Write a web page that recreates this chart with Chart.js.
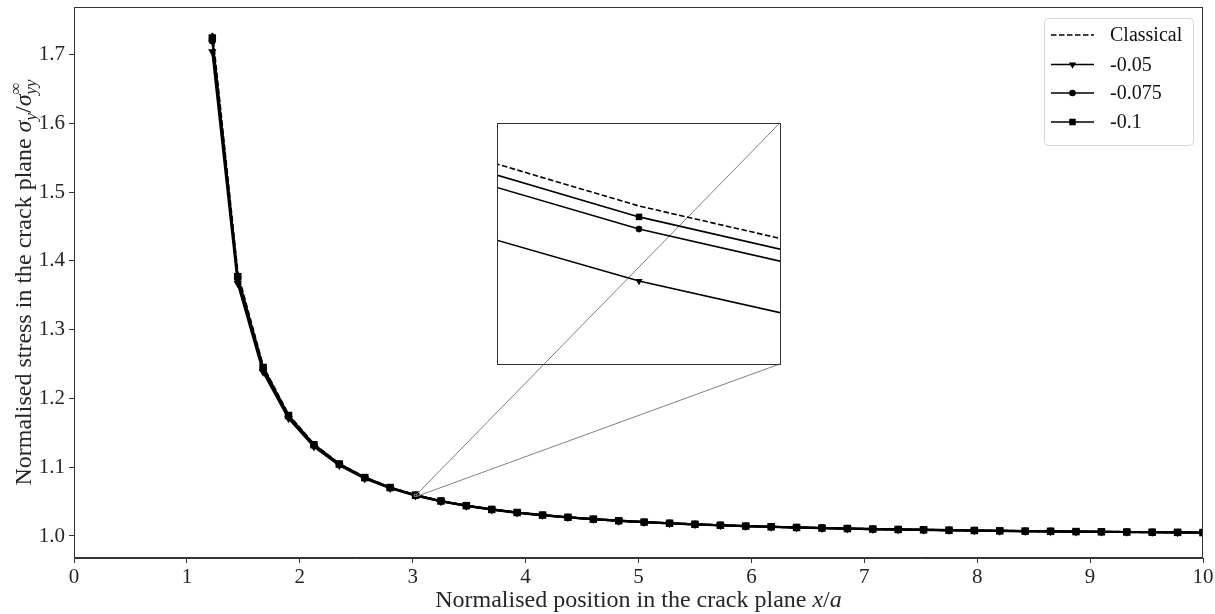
<!DOCTYPE html>
<html>
<head>
<meta charset="utf-8">
<script src="https://cdn.jsdelivr.net/npm/chart.js@4.4.1/dist/chart.umd.min.js"></script>
<style>
  body { margin: 0; background: #fff; }
  #wrap { position: relative; width: 1215px; height: 614px; }
  #inset { position: absolute; }
</style>
</head>
<body>
<div id="wrap">
  <canvas id="main" width="1215" height="614"></canvas>
  <canvas id="inset"></canvas>
</div>
<script>
// positions along the crack plane, x/a
var xVals = [1.225, 1.45, 1.675, 1.9, 2.125, 2.35, 2.575, 2.8, 3.025, 3.25,
  3.475, 3.7, 3.925, 4.15, 4.375, 4.6, 4.825, 5.05, 5.275, 5.5,
  5.725, 5.95, 6.175, 6.4, 6.625, 6.85, 7.075, 7.3, 7.525, 7.75,
  7.975, 8.2, 8.425, 8.65, 8.875, 9.1, 9.325, 9.55, 9.775, 10.0];

var classical = [1.7313, 1.3810, 1.2465, 1.1761, 1.1333, 1.1050, 1.0852, 1.070607, 1.059571, 1.050988,
  1.0442, 1.0387, 1.0341, 1.0304, 1.0272, 1.0245, 1.0222, 1.0202, 1.0185, 1.0170,
  1.0156, 1.0144, 1.0134, 1.0124, 1.0116, 1.0108, 1.0101, 1.0095, 1.0090, 1.0084,
  1.0080, 1.0075, 1.0071, 1.0068, 1.0064, 1.0061, 1.0058, 1.0055, 1.0053, 1.0050];

var s005 = [1.7040, 1.3672, 1.2384, 1.1709, 1.1299, 1.1026, 1.0835, 1.069367, 1.058641, 1.050271,
  1.0436, 1.0383, 1.0337, 1.0301, 1.0270, 1.0243, 1.0220, 1.0201, 1.0184, 1.0169,
  1.0155, 1.0143, 1.0133, 1.0123, 1.0115, 1.0107, 1.0100, 1.0094, 1.0089, 1.0084,
  1.0079, 1.0075, 1.0071, 1.0067, 1.0064, 1.0061, 1.0058, 1.0055, 1.0052, 1.0050];

var s0075 = [1.7200, 1.3754, 1.2435, 1.1742, 1.1321, 1.1042, 1.0847, 1.070217, 1.059285, 1.050773,
  1.0441, 1.0386, 1.0340, 1.0303, 1.0271, 1.0245, 1.0222, 1.0202, 1.0185, 1.0170,
  1.0156, 1.0144, 1.0134, 1.0124, 1.0116, 1.0108, 1.0101, 1.0095, 1.0090, 1.0084,
  1.0080, 1.0075, 1.0071, 1.0068, 1.0064, 1.0061, 1.0058, 1.0055, 1.0053, 1.0050];

var s01 = [1.7240, 1.3770, 1.2450, 1.1752, 1.1327, 1.1046, 1.0849, 1.070419, 1.059436, 1.050888,
  1.0441, 1.0386, 1.0341, 1.0304, 1.0272, 1.0245, 1.0222, 1.0202, 1.0185, 1.0170,
  1.0156, 1.0144, 1.0134, 1.0124, 1.0116, 1.0108, 1.0101, 1.0095, 1.0090, 1.0084,
  1.0080, 1.0075, 1.0071, 1.0068, 1.0064, 1.0061, 1.0058, 1.0055, 1.0053, 1.0050];

var seriesLabels = ['Classical', '-0.05', '-0.075', '-0.1'];
var seriesValues = [classical, s005, s0075, s01];

var xTicks = [0, 1, 2, 3, 4, 5, 6, 7, 8, 9, 10];
var yTicks = [1.0, 1.1, 1.2, 1.3, 1.4, 1.5, 1.6, 1.7];
var xRange = [0, 10];
var yRange = [0.968, 1.769];

// zoomed window and where the inset sits (data units of the main axes)
var zoomX = [3.0144, 3.0356];
var zoomY = [1.0576, 1.0606];
var insetBoxX = [3.75, 6.25];
var insetBoxY = [1.25, 1.6];

// styles, one per series
var markers = [null, 'triangle', 'circle', 'rect'];
var smallMarks = { triangle: 4.2, circle: 3.3, rect: 4.6 };
var bigMarks = { triangle: 4.8, circle: 3.7, rect: 5.3 };

var serif = '"Liberation Serif", "Times New Roman", serif';
Chart.defaults.font.family = serif;
Chart.defaults.color = '#262626';

function makeDatasets(lineW, marks) {
  return seriesValues.map(function(vals, i) {
    var m = markers[i];
    return {
      label: seriesLabels[i],
      data: xVals.map(function(x, j) { return { x: x, y: vals[j] }; }),
      borderColor: '#000',
      backgroundColor: '#000',
      borderWidth: lineW,
      borderDash: m ? [] : [5.5, 2.5],
      pointStyle: m || 'circle',
      pointRadius: m ? marks[m] : 0,
      pointRotation: m === 'triangle' ? 180 : 0,
      pointBorderWidth: 0,
      pointHoverRadius: 0,
      tension: 0,
      order: 4 - i
    };
  });
}

function drawMarker(ctx, style, x, y) {
  var r = smallMarks[style];
  ctx.beginPath();
  if (style === 'circle') {
    ctx.arc(x, y, r, 0, Math.PI * 2);
  } else if (style === 'rect') {
    var h = r * Math.SQRT1_2;
    ctx.rect(x - h, y - h, 2 * h, 2 * h);
  } else {
    var s = r * Math.sin(Math.PI / 3);
    ctx.moveTo(x, y + r);
    ctx.lineTo(x - s, y - r / 2);
    ctx.lineTo(x + s, y - r / 2);
    ctx.closePath();
  }
  ctx.fill();
}

// draws a run of text pieces; pieces may carry a stacked superscript
function drawPieces(ctx, parts, startX) {
  var x = startX;
  parts.forEach(function(p) {
    ctx.font = p.f;
    var w = ctx.measureText(p.t).width;
    ctx.fillText(p.t, x, p.dy);
    if (p.sup) {
      ctx.font = p.sup.f;
      ctx.fillText(p.sup.t, x, p.sup.dy);
      w = Math.max(w, ctx.measureText(p.sup.t).width);
    }
    x += w;
  });
}
function piecesWidth(ctx, parts) {
  var w = 0;
  parts.forEach(function(p) {
    ctx.font = p.f;
    var a = ctx.measureText(p.t).width;
    if (p.sup) { ctx.font = p.sup.f; a = Math.max(a, ctx.measureText(p.sup.t).width); }
    w += a;
  });
  return w;
}

var big = 24, small = 17;
var fRoman = big + 'px ' + serif;
var fItal = 'italic ' + big + 'px ' + serif;
var fSubI = 'italic ' + small + 'px ' + serif;
var fSub = small + 'px ' + serif;

var yTitle = [
  { t: 'Normalised stress in the crack plane ', f: fRoman, dy: 0 },
  { t: 'σ', f: fItal, dy: 0 },
  { t: 'y', f: fSubI, dy: 5 },
  { t: '/', f: fRoman, dy: 0 },
  { t: 'σ', f: fItal, dy: 0 },
  { t: 'yy', f: fSubI, dy: 5, sup: { t: '∞', f: fSub, dy: -10 } }
];
var xTitle = [
  { t: 'Normalised position in the crack plane ', f: fRoman, dy: 0 },
  { t: 'x', f: fItal, dy: 0 },
  { t: '/', f: fRoman, dy: 0 },
  { t: 'a', f: fItal, dy: 0 }
];

var decor = {
  id: 'decor',
  afterDraw: function(chart) {
    var ctx = chart.ctx, a = chart.chartArea;
    var xs = chart.scales.x, ys = chart.scales.y;
    ctx.save();

    // axes frame
    ctx.strokeStyle = '#333';
    ctx.lineWidth = 1;
    ctx.strokeRect(Math.round(a.left) + 0.5, Math.round(a.top) + 0.5,
      Math.round(a.right - a.left) - 1, Math.round(a.bottom - a.top) - 1);

    // zoom marker and connectors
    var zx0 = xs.getPixelForValue(zoomX[0]), zx1 = xs.getPixelForValue(zoomX[1]);
    var zy0 = ys.getPixelForValue(zoomY[0]), zy1 = ys.getPixelForValue(zoomY[1]);
    var bx1 = xs.getPixelForValue(insetBoxX[1]);
    var by0 = ys.getPixelForValue(insetBoxY[0]), by1 = ys.getPixelForValue(insetBoxY[1]);
    ctx.strokeStyle = '#808080';
    ctx.strokeRect(zx0, zy1, zx1 - zx0, zy0 - zy1);
    ctx.beginPath();
    ctx.moveTo(bx1, by1); ctx.lineTo(zx1, zy1);
    ctx.moveTo(bx1, by0); ctx.lineTo(zx1, zy0);
    ctx.stroke();

    // axis titles
    ctx.fillStyle = '#262626';
    ctx.textBaseline = 'alphabetic';
    ctx.textAlign = 'left';
    var w = piecesWidth(ctx, xTitle);
    ctx.save();
    ctx.translate(0, 607);
    drawPieces(ctx, xTitle, (a.left + a.right) / 2 - w / 2);
    ctx.restore();

    ctx.save();
    ctx.translate(31, (a.top + a.bottom) / 2);
    ctx.rotate(-Math.PI / 2);
    w = piecesWidth(ctx, yTitle);
    drawPieces(ctx, yTitle, -w / 2);
    ctx.restore();

    // legend
    var lx = a.right - 159, ly = a.top + 11, lw = 149, lh = 127;
    ctx.beginPath();
    ctx.roundRect(lx + 0.5, ly + 0.5, lw, lh, 4);
    ctx.fillStyle = 'rgba(255,255,255,0.8)';
    ctx.fill();
    ctx.strokeStyle = '#d6d6d6';
    ctx.stroke();
    var rows = [ly + 17, ly + 46.5, ly + 75, ly + 104];
    chart.data.datasets.forEach(function(ds, i) {
      var yy = rows[i];
      ctx.strokeStyle = '#000';
      ctx.fillStyle = '#000';
      ctx.lineWidth = 1.6;
      ctx.setLineDash(ds.borderDash);
      ctx.beginPath();
      ctx.moveTo(lx + 7, yy);
      ctx.lineTo(lx + 50, yy);
      ctx.stroke();
      ctx.setLineDash([]);
      if (markers[i]) drawMarker(ctx, markers[i], lx + 28.5, yy);
      ctx.fillStyle = '#111';
      ctx.font = '20px ' + serif;
      ctx.textBaseline = 'middle';
      ctx.fillText(ds.label, lx + 66, yy + 1);
    });
    ctx.restore();
  }
};

var axisGrid = { drawOnChartArea: false, drawTicks: true, tickLength: 5, color: '#333' };

var main = new Chart(document.getElementById('main'), {
  type: 'line',
  data: { datasets: makeDatasets(2.2, bigMarks) },
  options: {
    responsive: false,
    animation: false,
    devicePixelRatio: 1,
    layout: { padding: { top: 7, right: 12, left: 0, bottom: 0 } },
    plugins: { legend: { display: false }, tooltip: { enabled: false } },
    scales: {
      x: {
        type: 'linear', min: xRange[0], max: xRange[1],
        afterBuildTicks: function(s) { s.ticks = xTicks.map(function(v) { return { value: v }; }); },
        afterFit: function(s) { s.height = 56; s.paddingLeft = 0; s.paddingRight = 0; },
        grid: axisGrid,
        border: { color: '#333' },
        ticks: { font: { size: 21 }, padding: 2, maxRotation: 0, autoSkip: false,
          callback: function(v) { return String(v); } }
      },
      y: {
        type: 'linear', min: yRange[0], max: yRange[1],
        afterBuildTicks: function(s) { s.ticks = yTicks.map(function(v) { return { value: v }; }); },
        afterFit: function(s) { s.width = 74; s.paddingTop = 0; s.paddingBottom = 0; },
        grid: axisGrid,
        border: { color: '#333' },
        ticks: { font: { size: 21 }, padding: 4, autoSkip: false,
          callback: function(v) { return v.toFixed(1); } }
      }
    }
  },
  plugins: [decor]
});

// inset placed over the main axes at insetBox
var mx = main.scales.x, my = main.scales.y;
var il = Math.round(mx.getPixelForValue(insetBoxX[0]));
var ir = Math.round(mx.getPixelForValue(insetBoxX[1]));
var it = Math.round(my.getPixelForValue(insetBoxY[1]));
var ib = Math.round(my.getPixelForValue(insetBoxY[0]));
var ic = document.getElementById('inset');
ic.width = ir - il + 1; ic.height = ib - it + 1;
ic.style.left = il + 'px'; ic.style.top = it + 'px';
ic.style.width = ic.width + 'px'; ic.style.height = ic.height + 'px';

new Chart(ic, {
  type: 'line',
  data: { datasets: makeDatasets(1.6, smallMarks) },
  options: {
    responsive: false,
    animation: false,
    devicePixelRatio: 1,
    layout: { padding: 0, autoPadding: false },
    plugins: { legend: { display: false }, tooltip: { enabled: false } },
    scales: {
      x: { type: 'linear', display: false, min: zoomX[0], max: zoomX[1] },
      y: { type: 'linear', display: false, min: zoomY[0], max: zoomY[1] }
    }
  },
  plugins: [{
    id: 'insetFrame',
    afterDraw: function(chart) {
      var ctx = chart.ctx;
      ctx.save();
      ctx.strokeStyle = '#333';
      ctx.lineWidth = 1;
      ctx.strokeRect(0.5, 0.5, chart.width - 1, chart.height - 1);
      ctx.restore();
    }
  }]
});
</script>
</body>
</html>
